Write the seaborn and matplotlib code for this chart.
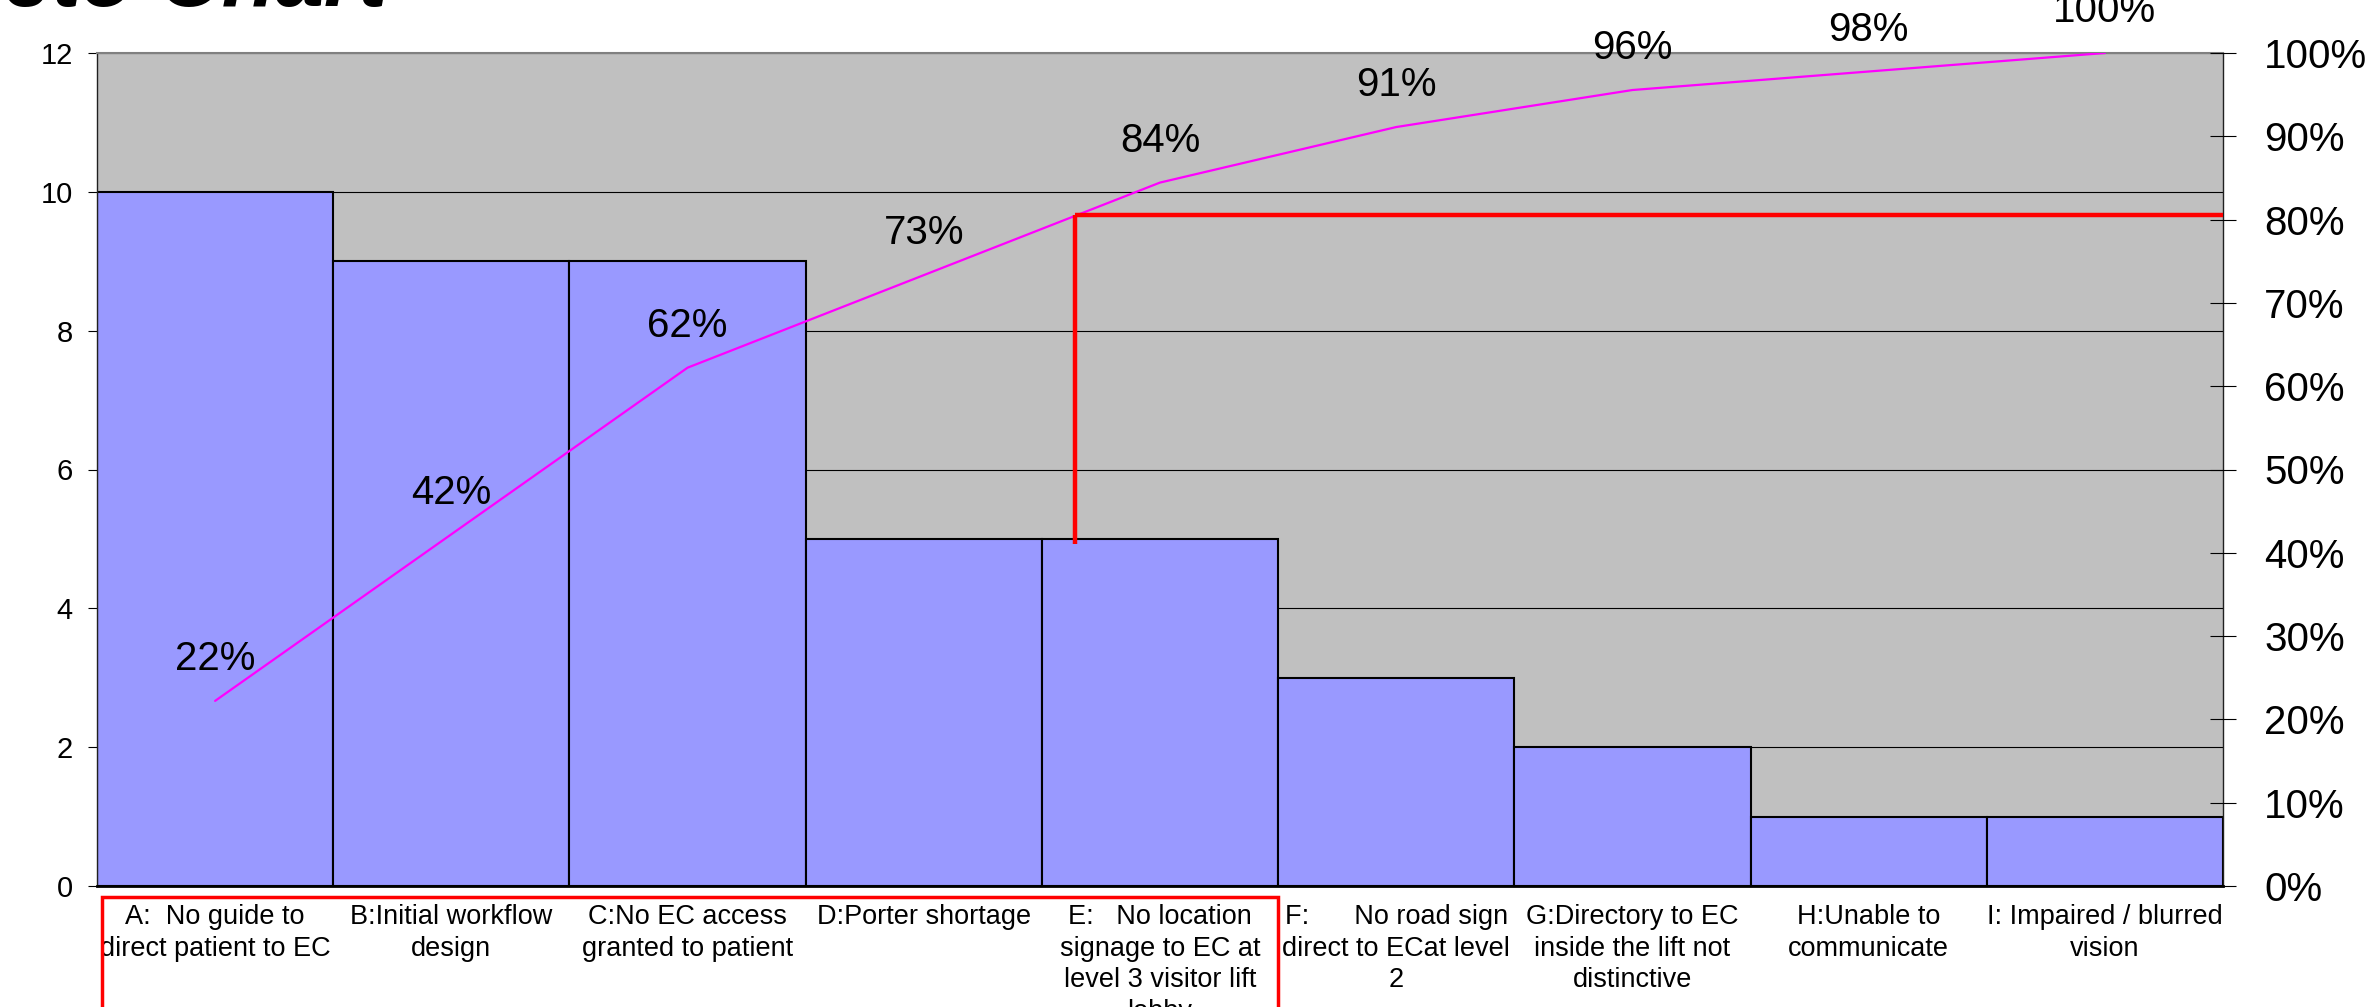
import numpy as np
import matplotlib
matplotlib.use("Agg")
import matplotlib.pyplot as plt
import matplotlib.transforms as mtransforms
from matplotlib.patches import Rectangle
from matplotlib.ticker import PercentFormatter, FixedLocator
import seaborn as sns

# data
categories = [
    "A:  No guide to\ndirect patient to EC",
    "B:Initial workflow\ndesign",
    "C:No EC access\ngranted to patient",
    "D:Porter shortage",
    "E:   No location\nsignage to EC at\nlevel 3 visitor lift\nlobby",
    "F:      No road sign\ndirect to ECat level\n2",
    "G:Directory to EC\ninside the lift not\ndistinctive",
    "H:Unable to\ncommunicate",
    "I: Impaired / blurred\nvision",
]
counts = [10, 9, 9, 5, 5, 3, 2, 1, 1]
cum_share = np.cumsum(counts) / np.sum(counts)

# 80% cut-off marker drawn by hand in the original
cutoff_x = 3.64
cutoff_level = 0.805
cutoff_bottom = 0.41

sns.set_style("white")
plt.rcParams['font.family'] = ['Liberation Sans', 'DejaVu Sans']
plt.rcParams['text.color'] = 'black'
plt.rcParams['xtick.color'] = 'black'
plt.rcParams['ytick.color'] = 'black'
plt.rcParams['xtick.labelcolor'] = 'black'
plt.rcParams['ytick.labelcolor'] = 'black'

W, H = 2371, 1007
fig = plt.figure(figsize=(W / 100, H / 100), dpi=100)
ax = fig.add_axes([97 / W, 1 - 886 / H, (2223 - 97) / W, (886 - 53) / H])
ax.set_facecolor("#C0C0C0")

x = np.arange(len(counts))
sns.barplot(x=x, y=counts, color="#9999FF", saturation=1, width=1.0,
            edgecolor="black", linewidth=1.5, ax=ax, zorder=2)
ax.set_xlim(-0.5, len(counts) - 0.5)
ax.set_ylim(0, 12)
ax.set_yticks(range(0, 13, 2))
ax.yaxis.grid(True, color="black", linewidth=0.8)
ax.set_axisbelow(True)
ax.set_xlabel("")
ax.set_ylabel("")

ax.set_xticks(x)
ax.set_xticklabels(categories, fontsize=19.5, linespacing=1.28, color="black")
ax.xaxis.set_minor_locator(FixedLocator(np.arange(len(counts) + 1) - 0.5))
ax.tick_params(axis="x", which="major", length=0, pad=13)
ax.tick_params(axis="x", which="minor", length=6, width=0.8, color="#404040", direction="out")
ax.tick_params(axis="y", labelsize=21, length=6.5, width=0.8, direction="out", pad=11, left=True,
               labelcolor="black")

for s in ["left", "right"]:
    ax.spines[s].set_color("#202020")
    ax.spines[s].set_linewidth(1)
ax.spines["bottom"].set_color("black")
ax.spines["bottom"].set_linewidth(2)
ax.spines["top"].set_color("#808080")
ax.spines["top"].set_linewidth(1.5)

ax2 = ax.twinx()
sns.lineplot(x=x, y=cum_share, color="#FF00FF", linewidth=1.6, ax=ax2)
ax2.set_ylim(0, 1)
ax2.set_yticks(np.linspace(0, 1, 11))
ax2.yaxis.set_major_formatter(PercentFormatter(1.0, decimals=0))
ax2.tick_params(axis="y", labelsize=29, length=19, width=0.8, direction="inout", pad=20,
                labelcolor="black")
ax2.set_ylabel("")
for s in ax2.spines.values():
    s.set_visible(False)

for xi, c in zip(x, cum_share):
    ax2.annotate(f"{c * 100:.0f}%", (xi, c), xytext=(0, 30), textcoords="offset points",
                 ha="center", va="center", fontsize=29, color="black", annotation_clip=False)

# red cut-off lines
ax2.plot([cutoff_x, cutoff_x], [cutoff_bottom, cutoff_level], color="red", linewidth=3.2, solid_capstyle="butt")
ax2.plot([cutoff_x, len(counts) - 0.5], [cutoff_level, cutoff_level], color="red", linewidth=3.2,
         solid_capstyle="butt")

# red box around the vital few
trans = mtransforms.blended_transform_factory(ax.transData, fig.transFigure)
fig.patches.append(Rectangle((-0.48, -0.05), 4.98, 0.05 + 1 - 897 / H, transform=trans,
                             fill=False, edgecolor="red", linewidth=2.5))

fig.text(387 / W, 1 - 6 / H, "Pareto Chart", ha="right", va="baseline",
         fontsize=63, fontweight="bold", fontstyle="italic", color="black")

fig.savefig("out.png", dpi=100)
